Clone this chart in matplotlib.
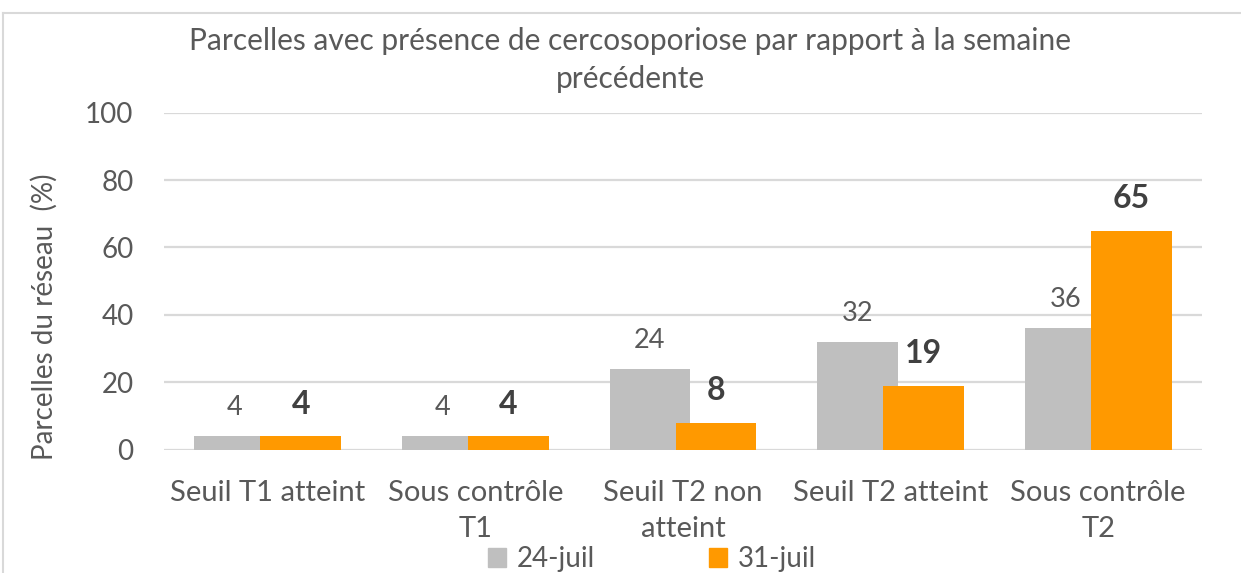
import matplotlib.pyplot as plt
import numpy as np
from matplotlib.lines import Line2D
from matplotlib.patches import Patch

categories = ["Seuil T1 atteint", "Sous contrôle\nT1", "Seuil T2 non\natteint",
              "Seuil T2 atteint", "Sous contrôle\nT2"]
series_names = ["24-juil", "31-juil"]
values_24 = [4, 4, 24, 32, 36]
values_31 = [4, 4, 8, 19, 65]
yticks = [0, 20, 40, 60, 80, 100]

GRAY = "#BFBFBF"
ORANGE = "#FF9900"
TEXT = "#595959"
GRID = "#D9D9D9"

plt.rcParams["font.family"] = ["Lato", "DejaVu Sans"]

W, H = 1241, 573
fig = plt.figure(figsize=(W / 100, H / 100), dpi=100)


def px(x0, y0, x1, y1):
    # pixel box (top-left origin) -> figure fraction rect
    return [x0 / W, 1 - y1 / H, (x1 - x0) / W, (y1 - y0) / H]


ax = fig.add_axes(px(164, 112.7, 1202, 449.5))

x = np.arange(len(categories))
off, bw = 0.159, 0.39
b1 = ax.bar(x - off, values_24, bw, color=GRAY, zorder=2)
b2 = ax.bar(x + off, values_31, bw, color=ORANGE, zorder=3)

for rect, v in zip(b1, values_24):
    ax.annotate(str(v), (rect.get_x() + rect.get_width() / 2, v),
                xytext=(0, 15), textcoords="offset points",
                ha="center", va="baseline", fontsize=19.5, color=TEXT)
for rect, v in zip(b2, values_31):
    ax.annotate(str(v), (rect.get_x() + rect.get_width() / 2, v),
                xytext=(0, 16), textcoords="offset points",
                ha="center", va="baseline", fontsize=23, fontweight="bold",
                color="#404040")

ax.set_xlim(-0.5, len(categories) - 0.5)
ax.set_ylim(0, 100)
ax.set_yticks(yticks)
ax.set_yticklabels([str(t) for t in yticks], fontsize=20, color=TEXT)
ax.set_xticks(x)
ax.set_xticklabels(categories, fontsize=21, color=TEXT, linespacing=1.45)
ax.tick_params(axis="y", length=0, pad=22)
ax.tick_params(axis="x", length=0, pad=22)
ax.grid(axis="y", color=GRID, linewidth=1.6, zorder=0)
ax.set_axisbelow(True)
for s in ax.spines.values():
    s.set_visible(False)

fig.text(44 / W, 1 - 317 / H, "Parcelles du réseau  (%)", rotation=90,
         ha="center", va="center", fontsize=20, color=TEXT)

fig.text(630 / W, 1 - 60 / H,
         "Parcelles avec présence de cercosoporiose par rapport à la semaine\nprécédente",
         ha="center", va="center", fontsize=21.5, color=TEXT,
         linespacing=1.4)

handles = [Patch(color=GRAY), Patch(color=ORANGE)]
fig.legend(handles, series_names, loc="center", bbox_to_anchor=(652 / W, 1 - 559 / H),
           ncol=2, frameon=False, fontsize=20, labelcolor=TEXT,
           handlelength=0.65, handleheight=0.65, handletextpad=0.4,
           columnspacing=4.1, borderpad=0)

# chart frame
fig.add_artist(Line2D([3 / W, 1], [1 - 13 / H, 1 - 13 / H], color=GRID, lw=1.5))
fig.add_artist(Line2D([3 / W, 3 / W], [0, 1 - 13 / H], color=GRID, lw=1.5))

fig.savefig("out.png", dpi=100)
